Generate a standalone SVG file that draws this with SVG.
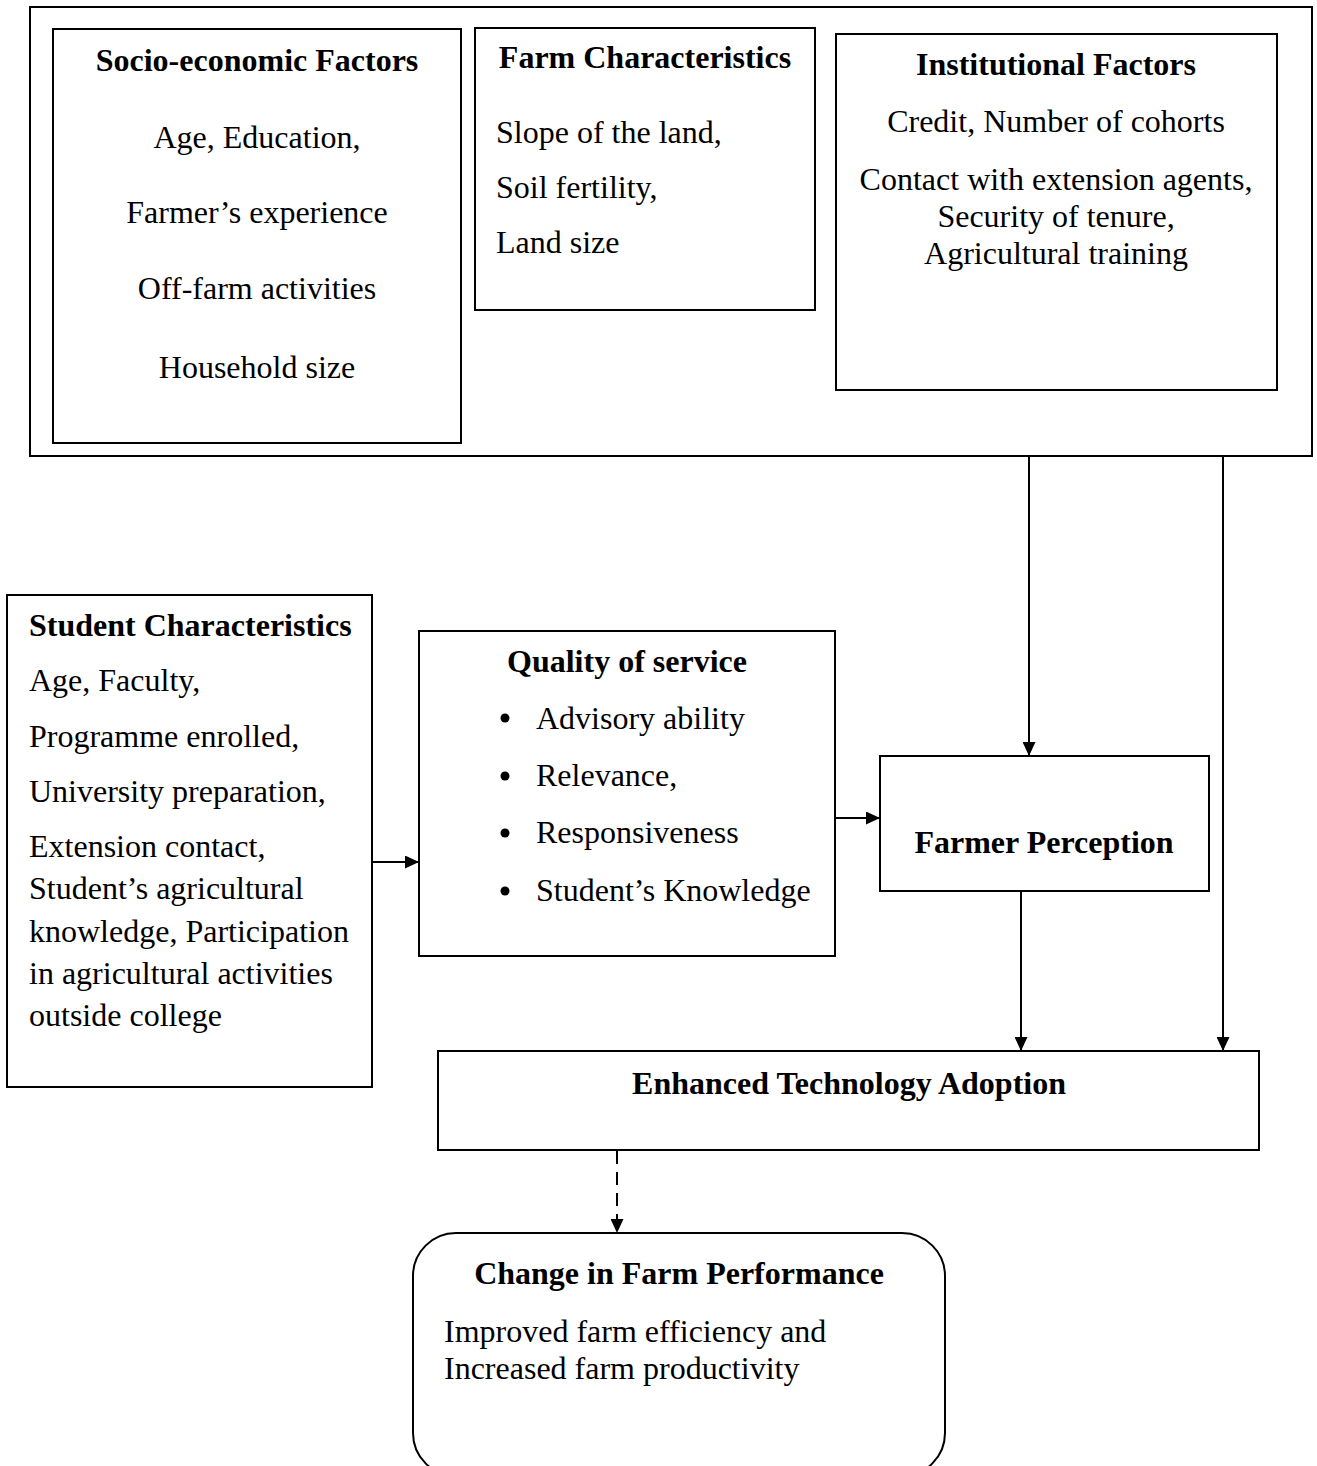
<svg xmlns="http://www.w3.org/2000/svg" width="1317" height="1466" viewBox="0 0 1317 1466">
<defs>
<style>
.box{fill:none;stroke:#000;stroke-width:2}
.t{font-family:"Liberation Serif","Times New Roman",serif;font-size:32px;fill:#000}
.b{font-weight:bold}
.c{text-anchor:middle}
.ln{stroke:#000;stroke-width:2;fill:none}
.dash{stroke-dasharray:13 8}
</style>
<marker id="ah" viewBox="0 0 14 13" refX="14" refY="6.5" markerWidth="14" markerHeight="13" markerUnits="userSpaceOnUse" orient="auto">
<path d="M0,0 L14,6.5 L0,13 Z" fill="#000"/>
</marker>
</defs>
<rect width="1317" height="1466" fill="#fff"/>

<g id="outer"><rect class="box" x="30" y="7" width="1282" height="449"/></g>

<g id="socio">
<rect class="box" x="53" y="29" width="408" height="414"/>
<text class="t b c" x="257" y="71">Socio-economic Factors</text>
<text class="t c" x="257" y="148">Age, Education,</text>
<text class="t c" x="257" y="223">Farmer’s experience</text>
<text class="t c" x="257" y="299">Off-farm activities</text>
<text class="t c" x="257" y="378">Household size</text>
</g>

<g id="farm">
<rect class="box" x="475" y="28" width="340" height="282"/>
<text class="t b c" x="645" y="68">Farm Characteristics</text>
<text class="t" x="496" y="143">Slope of the land,</text>
<text class="t" x="496" y="198">Soil fertility,</text>
<text class="t" x="496" y="253">Land size</text>
</g>

<g id="institutional">
<rect class="box" x="836" y="34" width="441" height="356"/>
<text class="t b c" x="1056" y="75">Institutional Factors</text>
<text class="t c" x="1056" y="132">Credit, Number of cohorts</text>
<text class="t c" x="1056" y="190">Contact with extension agents,</text>
<text class="t c" x="1056" y="227">Security of tenure,</text>
<text class="t c" x="1056" y="264">Agricultural training</text>
</g>

<g id="student">
<rect class="box" x="7" y="595" width="365" height="492"/>
<text class="t b" x="29" y="636">Student Characteristics</text>
<text class="t" x="29" y="691">Age, Faculty,</text>
<text class="t" x="29" y="747">Programme enrolled,</text>
<text class="t" x="29" y="802">University preparation,</text>
<text class="t" x="29" y="857">Extension contact,</text>
<text class="t" x="29" y="899">Student’s agricultural</text>
<text class="t" x="29" y="942">knowledge, Participation</text>
<text class="t" x="29" y="984">in agricultural activities</text>
<text class="t" x="29" y="1026">outside college</text>
</g>

<g id="quality">
<rect class="box" x="419" y="631" width="416" height="325"/>
<text class="t b c" x="627" y="672">Quality of service</text>
<circle cx="505" cy="718" r="4.5"/>
<circle cx="505" cy="776" r="4.5"/>
<circle cx="505" cy="833" r="4.5"/>
<circle cx="505" cy="891" r="4.5"/>
<text class="t" x="536" y="729">Advisory ability</text>
<text class="t" x="536" y="786">Relevance,</text>
<text class="t" x="536" y="843">Responsiveness</text>
<text class="t" x="536" y="901">Student’s Knowledge</text>
</g>

<g id="perception">
<rect class="box" x="880" y="756" width="329" height="135"/>
<text class="t b c" x="1044" y="853">Farmer Perception</text>
</g>

<g id="adoption">
<rect class="box" x="438" y="1051" width="821" height="99"/>
<text class="t b c" x="849" y="1094">Enhanced Technology Adoption</text>
</g>

<g id="performance">
<rect class="box" x="413" y="1233" width="532" height="243" rx="43" ry="43"/>
<text class="t b c" x="679" y="1284">Change in Farm Performance</text>
<text class="t" x="444" y="1342">Improved farm efficiency and</text>
<text class="t" x="444" y="1379">Increased farm productivity</text>
</g>

<g id="connectors">
<line class="ln" x1="1029" y1="456" x2="1029" y2="756" marker-end="url(#ah)"/>
<line class="ln" x1="1223" y1="456" x2="1223" y2="1051" marker-end="url(#ah)"/>
<line class="ln" x1="1021" y1="891" x2="1021" y2="1051" marker-end="url(#ah)"/>
<line class="ln" x1="372" y1="862" x2="419" y2="862" marker-end="url(#ah)"/>
<line class="ln" x1="835" y1="818" x2="880" y2="818" marker-end="url(#ah)"/>
<line class="ln dash" x1="617" y1="1151" x2="617" y2="1233" marker-end="url(#ah)"/>
</g>
</svg>
